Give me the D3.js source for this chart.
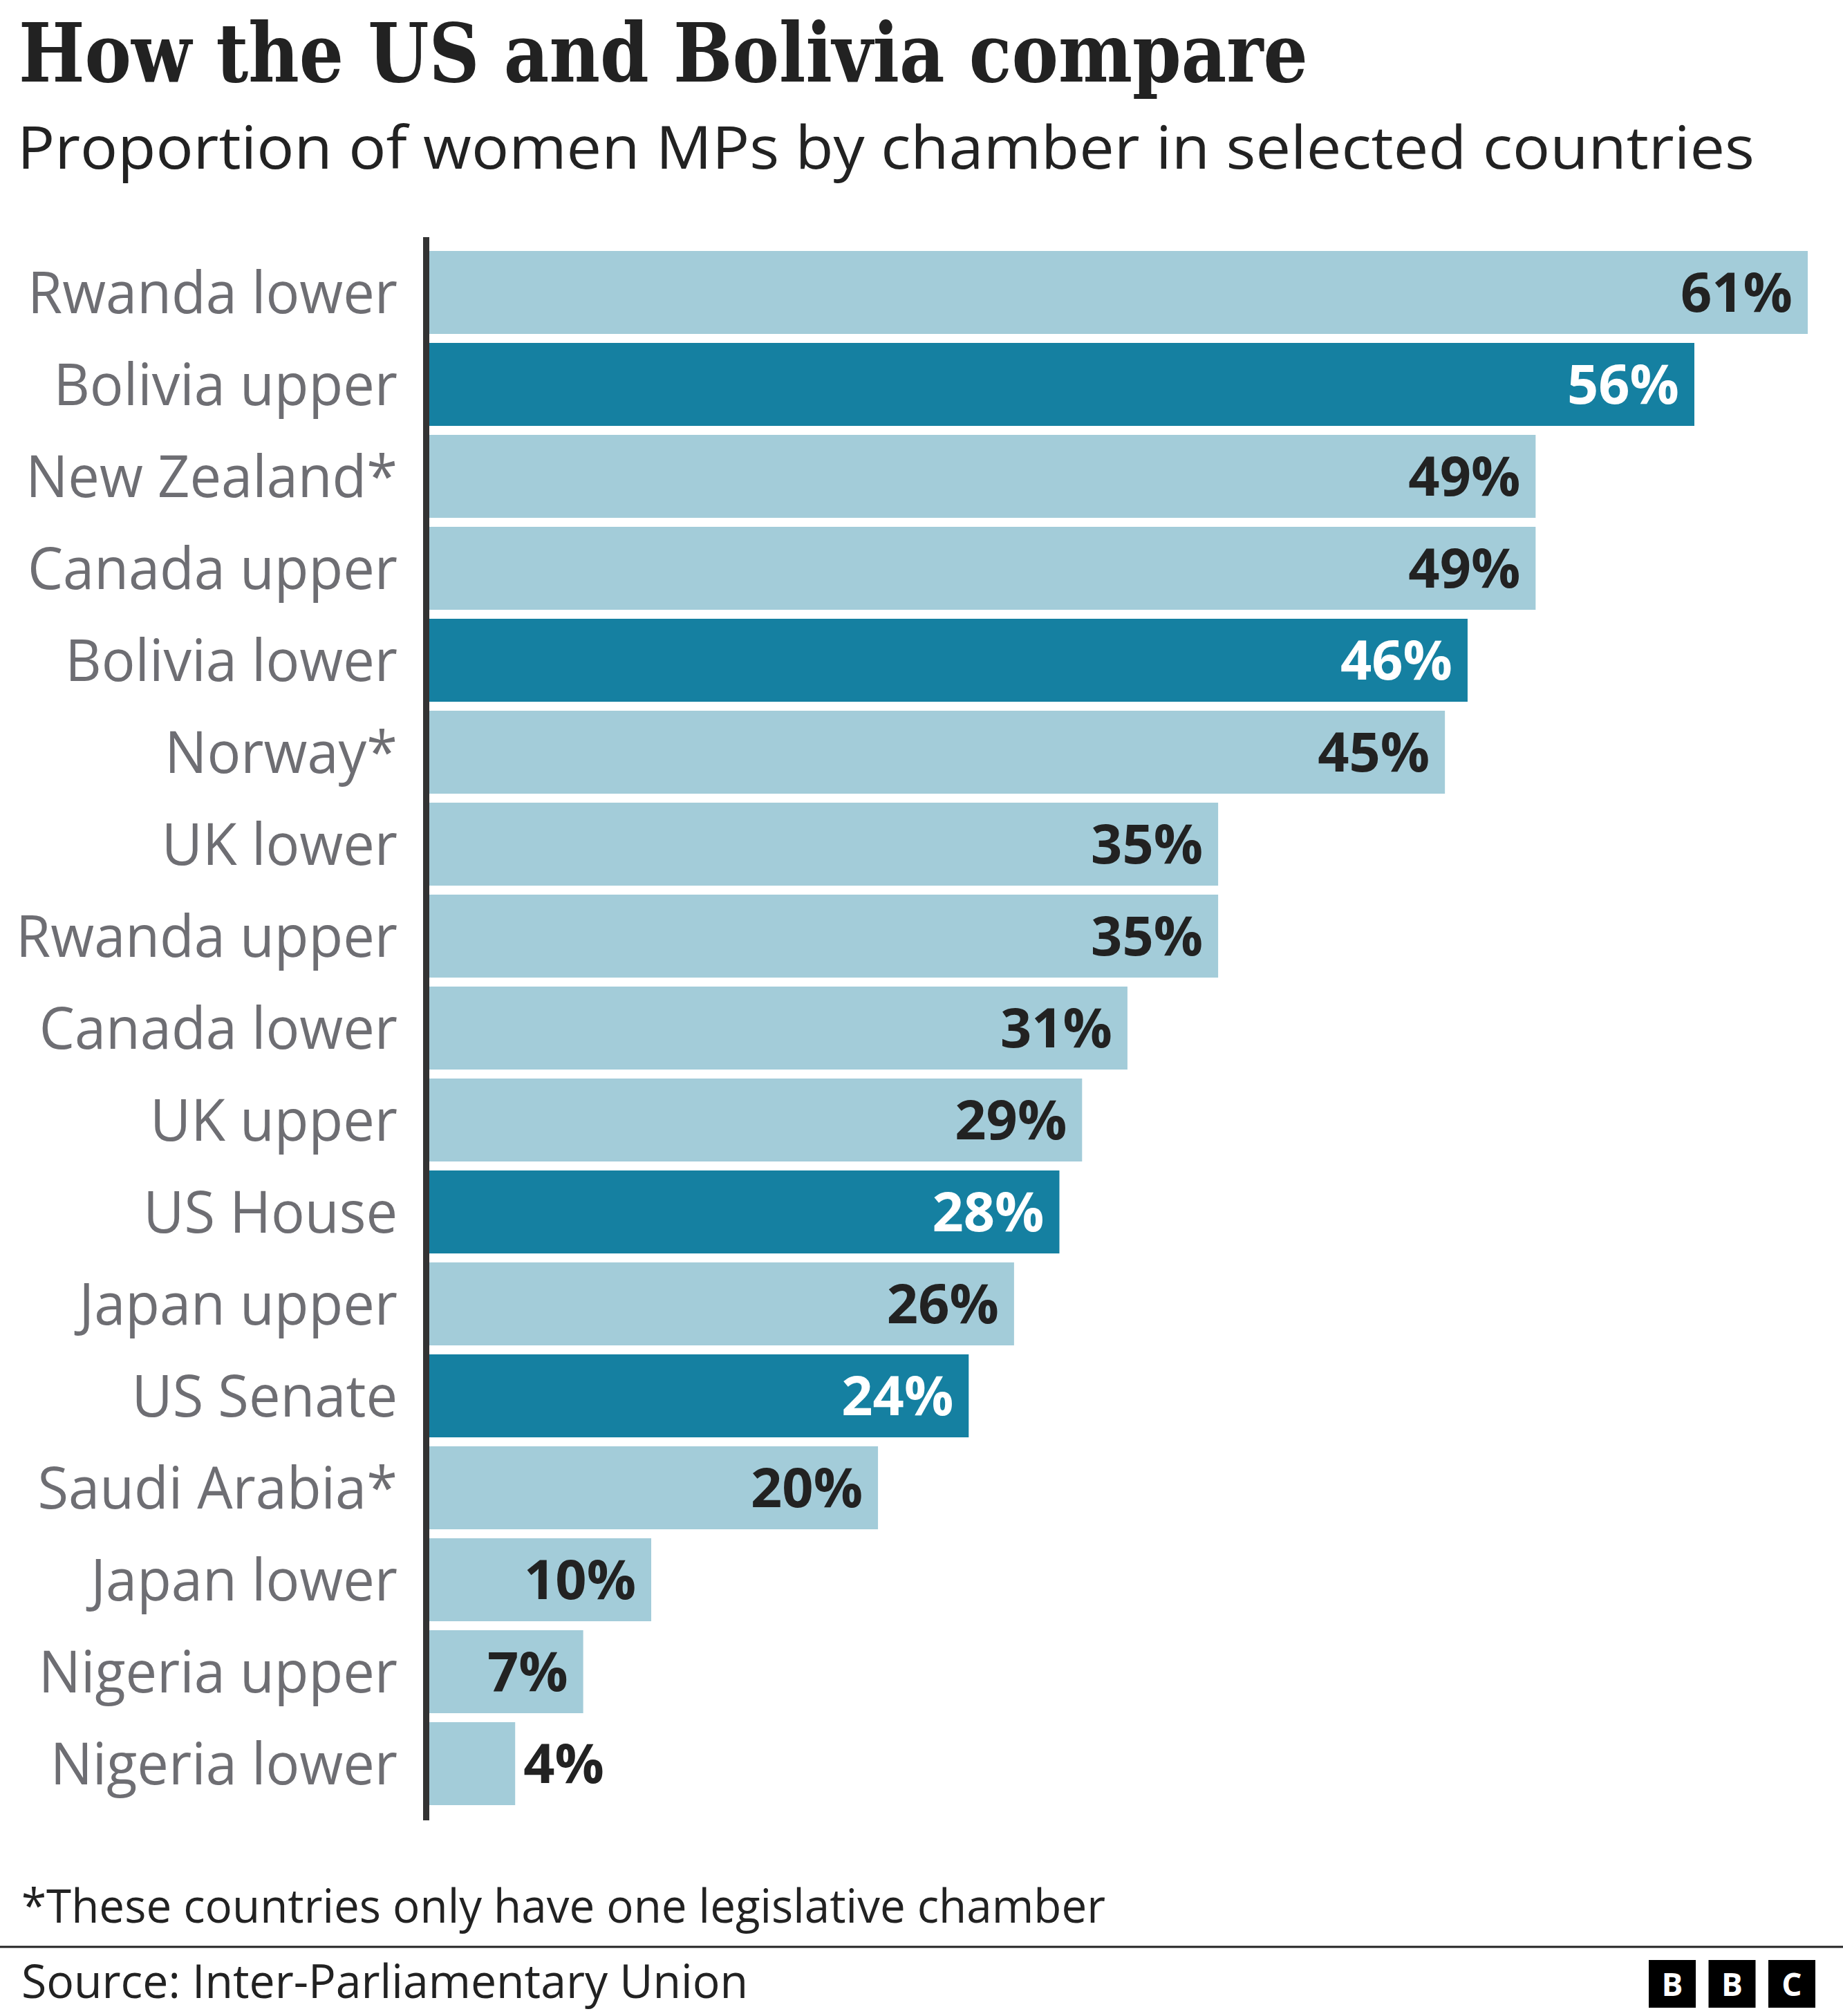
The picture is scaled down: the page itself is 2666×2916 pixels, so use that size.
<!DOCTYPE html>
<html>
<head>
<meta charset="utf-8">
<script src="https://cdn.jsdelivr.net/npm/d3@7"></script>
<style>
  html, body { margin: 0; padding: 0; background: #ffffff; }
  svg { display: block; }
</style>
</head>
<body>
<svg id="chart" width="2666" height="2916"></svg>
<script>
// ---------------- DATA ----------------
const titleText = "How the US and Bolivia compare";
const subtitleText = "Proportion of women MPs by chamber in selected countries";
const footnoteText = "*These countries only have one legislative chamber";
const sourceText = "Source: Inter-Parliamentary Union";

const categories = [
  "Rwanda lower", "Bolivia upper", "New Zealand*", "Canada upper", "Bolivia lower",
  "Norway*", "UK lower", "Rwanda upper", "Canada lower", "UK upper", "US House",
  "Japan upper", "US Senate", "Saudi Arabia*", "Japan lower", "Nigeria upper", "Nigeria lower"
];
const values = [61, 56, 49, 49, 46, 45, 35, 35, 31, 29, 28, 26, 24, 20, 10, 7, 4];
const highlighted = ["Bolivia upper", "Bolivia lower", "US House", "US Senate"];
const logoLetters = ["B", "B", "C"];

// ---------------- STYLE ----------------
const W = 2666, H = 2916;
const colLight = "#a3ccd9";
const colDark = "#1580a1";
const colText = "#222222";
const colLabel = "#6e6e73";
const sans = "'Open Sans', 'Noto Sans', sans-serif";
const serif = "'DejaVu Serif', serif";

const svg = d3.select("#chart");
const data = categories.map((c, i) => ({ cat: c, val: values[i], hi: highlighted.includes(c) }));

// horizontal fit helper: keep font height, fit width
function fitWidth(sel, target) {
  const w = sel.node().getComputedTextLength();
  sel.attr("textLength", target).attr("lengthAdjust", "spacingAndGlyphs");
  return target / w;
}
function squeeze(sel, factor) {
  sel.each(function () {
    const w = this.getComputedTextLength();
    d3.select(this).attr("textLength", w * factor).attr("lengthAdjust", "spacingAndGlyphs");
  });
}

// ---------------- TITLE ----------------
const title = svg.append("text")
  .attr("x", 27).attr("y", 118)
  .attr("font-family", serif).attr("font-weight", 700)
  .attr("font-size", 118).attr("fill", colText)
  .text(titleText);
fitWidth(title, 1865);

const subtitle = svg.append("text")
  .attr("x", 25).attr("y", 244)
  .attr("font-family", sans).attr("font-weight", 400)
  .attr("font-size", 86).attr("fill", colText)
  .text(subtitleText);
fitWidth(subtitle, 2513);

// ---------------- SCALES ----------------
const x = d3.scaleLinear().domain([0, d3.max(values)]).range([614, 2615]);
const y = d3.scaleBand().domain(categories).range([363, 2611])
  .paddingInner(13 / 133).paddingOuter(0);
const bw = y.bandwidth();

// ---------------- BARS ----------------
svg.append("g").selectAll("rect").data(data).join("rect")
  .attr("x", x(0))
  .attr("y", d => y(d.cat))
  .attr("width", d => x(d.val) - x(0))
  .attr("height", bw)
  .attr("fill", d => d.hi ? colDark : colLight);

// ---------------- AXIS (left line) ----------------
const axisG = svg.append("g").attr("transform", `translate(616.5,0)`)
  .call(d3.axisLeft(y).tickSize(0).tickFormat(""));
axisG.select(".domain").remove();
axisG.append("line")
  .attr("x1", 0).attr("x2", 0)
  .attr("y1", y.range()[0] - 20).attr("y2", y.range()[1] + 22)
  .attr("stroke", "#333333").attr("stroke-width", 9);

// ---------------- CATEGORY LABELS ----------------
const catLabels = svg.append("g").selectAll("text").data(data).join("text")
  .attr("x", 575)
  .attr("y", d => y(d.cat) + bw / 2 + 30)
  .attr("text-anchor", "end")
  .attr("font-family", sans).attr("font-size", 84)
  .attr("fill", colLabel)
  .text(d => d.cat);
const refCat = catLabels.filter(d => d.cat === "Rwanda lower");
const catFactor = 535 / refCat.node().getComputedTextLength();
squeeze(catLabels, catFactor);

// ---------------- VALUE LABELS ----------------
const valLabels = svg.append("g").selectAll("text").data(data).join("text")
  .attr("font-family", sans).attr("font-weight", 700).attr("font-size", 78)
  .attr("y", d => y(d.cat) + bw / 2 + 28)
  .text(d => d.val + "%");
const refVal = valLabels.filter(d => d.val === 61);
const valFactor = 162 / refVal.node().getComputedTextLength();
squeeze(valLabels, valFactor);
valLabels.each(function (d) {
  const tw = this.getComputedTextLength() * valFactor;
  const barW = x(d.val) - x(0);
  const inside = barW >= tw + 36;
  d3.select(this)
    .attr("text-anchor", inside ? "end" : "start")
    .attr("x", inside ? x(d.val) - 22 : x(d.val) + 12)
    .attr("fill", inside && d.hi ? "#ffffff" : colText);
});

// ---------------- FOOTNOTE / SOURCE ----------------
const foot = svg.append("text")
  .attr("x", 31).attr("y", 2781)
  .attr("font-family", sans).attr("font-size", 67).attr("fill", colText)
  .text(footnoteText);
fitWidth(foot, 1568);

svg.append("line")
  .attr("x1", 0).attr("x2", W)
  .attr("y1", 2816).attr("y2", 2816)
  .attr("stroke", "#222222").attr("stroke-width", 3);

const src = svg.append("text")
  .attr("x", 31).attr("y", 2890)
  .attr("font-family", sans).attr("font-size", 67).attr("fill", colText)
  .text(sourceText);
fitWidth(src, 1051);

// ---------------- BBC LOGO ----------------
const logo = svg.append("g").selectAll("g").data(logoLetters).join("g")
  .attr("transform", (d, i) => `translate(${2385 + i * 86.5},2835)`);
logo.append("rect").attr("width", 68).attr("height", 69).attr("fill", "#000000");
logo.append("text")
  .attr("x", 34).attr("y", 52)
  .attr("text-anchor", "middle")
  .attr("font-family", sans).attr("font-weight", 700).attr("font-size", 46)
  .attr("fill", "#ffffff")
  .text(d => d);
</script>
</body>
</html>
